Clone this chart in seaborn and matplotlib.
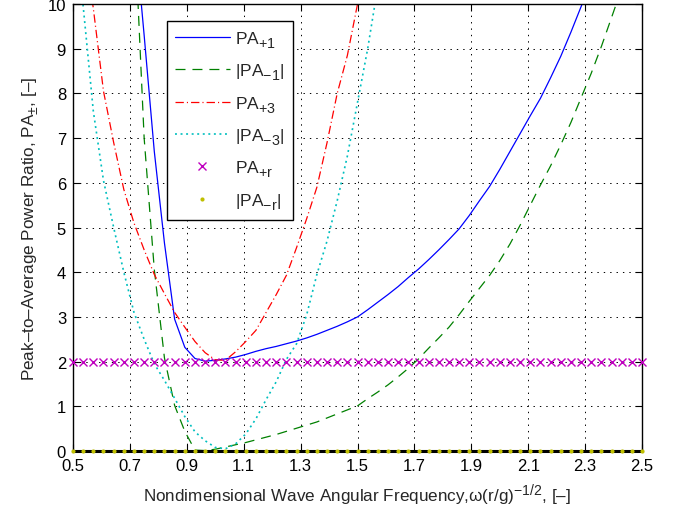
import numpy as np
import pandas as pd
import matplotlib
matplotlib.use("Agg")
import matplotlib.pyplot as plt
import matplotlib._mathtext as mathtext_engine
import seaborn as sns

# Nondimensional frequency grid, omega*(r/g)^(-1/2)
omega = np.round(np.linspace(0.5, 2.5, 57), 4)

# PA_+1 sampled from omega[6] (0.714) to omega[51] (2.321)
pa_p1 = [11.8, 9.3, 6.7, 4.65, 2.95, 2.32, 2.07, 2.01, 2.03, 2.06,
         2.10, 2.16, 2.23, 2.29, 2.34, 2.40, 2.46, 2.53, 2.61, 2.70,
         2.79, 2.89, 3.00, 3.16, 3.33, 3.50, 3.68, 3.88, 4.07, 4.28,
         4.50, 4.73, 4.97, 5.27, 5.60, 5.92, 6.30, 6.70, 7.10, 7.50,
         7.89, 8.35, 8.83, 9.37, 9.94, 10.5]
# |PA_-1| sampled from omega[6] (0.714) to omega[54] (2.429)
pa_m1 = [12.0, 7.0, 4.06, 2.08, 1.02, 0.44, 0.02, 0.01, 0.04, 0.09,
         0.14, 0.19, 0.25, 0.31, 0.37, 0.44, 0.51, 0.58, 0.65, 0.74,
         0.83, 0.92, 1.01, 1.17, 1.32, 1.48, 1.66, 1.85, 2.06, 2.30,
         2.53, 2.77, 3.05, 3.35, 3.64, 3.93, 4.26, 4.63, 5.05, 5.50,
         5.95, 6.38, 6.85, 7.35, 7.90, 8.45, 9.05, 9.70, 10.35]
# PA_+3 sampled from omega[1] (0.536) to omega[29] (1.536)
pa_p3 = [11.5, 9.9, 8.05, 6.9, 5.85, 5.1, 4.5, 3.95, 3.52, 3.1,
         2.77, 2.45, 2.2, 2.04, 2.03, 2.22, 2.45, 2.7, 3.1, 3.5,
         3.93, 4.55, 5.2, 5.9, 6.9, 8.0, 8.85, 10.0, 11.2]
# |PA_-3| sampled from omega[0] (0.5) to omega[30] (1.571)
pa_m3 = [12.0, 9.95, 7.6, 6.05, 5.0, 4.0, 3.1, 2.5, 1.95, 1.58,
         1.18, 0.77, 0.43, 0.23, 0.08, 0.05, 0.16, 0.38, 0.72, 1.15,
         1.55, 2.05, 2.4, 3.05, 3.95, 4.7, 5.6, 6.6, 7.8, 9.0, 10.4]
# Rigid-body ratios, constant over the band
pa_pr = [2.0] * len(omega)
pa_mr = [0.0] * len(omega)

x_ticks = [0.5, 0.7, 0.9, 1.1, 1.3, 1.5, 1.7, 1.9, 2.1, 2.3, 2.5]
y_ticks = list(range(0, 11))

sns.set_theme(style="ticks")
plt.rcParams["font.family"] = ["Liberation Sans", "DejaVu Sans"]
plt.rcParams["mathtext.fontset"] = "custom"
plt.rcParams["mathtext.rm"] = "Liberation Sans"
plt.rcParams["mathtext.it"] = "Liberation Sans"
plt.rcParams["mathtext.default"] = "regular"
plt.rcParams["lines.scale_dashes"] = False
# larger, lower-set sub/superscripts
mathtext_engine.SHRINK_FACTOR = 0.82
mathtext_engine.FontConstantsBase.sub1 = 0.55
mathtext_engine.FontConstantsBase.sub2 = 0.65

BLUE, GREEN, RED = "#0000ff", "#008000", "#ff0000"
CYAN, MAGENTA, YELLOW = "#00bfbf", "#bf00bf", "#bfbf00"

fig = plt.figure(figsize=(6.73, 5.10), dpi=100)
ax = fig.add_axes([0.1085, 0.1137, 0.8455, 0.8765])

lw = 0.9
sns.lineplot(x=omega[6:6 + len(pa_p1)], y=pa_p1, ax=ax, color=BLUE, lw=lw,
             linestyle="-", label=r"PA$_{+1}$", sort=False)
sns.lineplot(x=omega[6:6 + len(pa_m1)], y=pa_m1, ax=ax, color=GREEN, lw=lw,
             linestyle=(0, (7.2, 5.0)), label=r"|PA$_{-1}$|", sort=False)
sns.lineplot(x=omega[1:1 + len(pa_p3)], y=pa_p3, ax=ax, color=RED, lw=lw,
             linestyle=(0, (6.0, 2.2, 0.8, 2.2)), label=r"PA$_{+3}$", sort=False)
sns.lineplot(x=omega[0:len(pa_m3)], y=pa_m3, ax=ax, color=CYAN, lw=1.2,
             linestyle=(0, (1.4, 2.6)), label=r"|PA$_{-3}$|", sort=False)
sns.lineplot(x=omega, y=pa_pr, ax=ax, color=MAGENTA, linestyle="none",
             marker="x", markersize=5.5, markeredgewidth=1.0,
             markeredgecolor=MAGENTA, label=r"PA$_{+r}$", sort=False,
             clip_on=False, zorder=5)
sns.lineplot(x=omega, y=pa_mr, ax=ax, color=YELLOW, linestyle="none",
             marker="o", markersize=3.0, markeredgewidth=0,
             markeredgecolor=YELLOW, label=r"|PA$_{-r}$|", sort=False,
             clip_on=False, zorder=6)

ax.set_xlim(0.5, 2.5)
ax.set_ylim(0, 10)
ax.set_xticks(x_ticks)
ax.set_xticklabels([f"{t:.1f}" for t in x_ticks])
ax.set_yticks(y_ticks)
ax.tick_params(direction="in", length=5, width=0.8, top=True, right=True,
               labelsize=12, colors="black", pad=5)
ax.grid(True, color="black", linestyle=(0, (1, 3.6)), linewidth=0.7)
for side in ["left", "right", "top"]:
    ax.spines[side].set_linewidth(1.0)
    ax.spines[side].set_color("black")
ax.spines["bottom"].set_linewidth(2.2)
ax.spines["bottom"].set_color("black")

ax.set_xlabel("Nondimensional Wave Angular Frequency,ω(r/g)$^{-1/2}$, [–]",
              fontsize=12.3, labelpad=6)
ax.set_ylabel("Peak–to–Average Power Ratio, PA$_{\\pm}$, [–]",
              fontsize=12.3, labelpad=5)

leg = ax.legend(loc="upper left", bbox_to_anchor=(0.165, 0.962),
                fontsize=12.5, frameon=True, fancybox=False, framealpha=1,
                edgecolor="black", handlelength=3.2, handletextpad=0.3,
                labelspacing=0.66, borderpad=0.45, borderaxespad=0)
leg.get_frame().set_linewidth(1.0)

fig.savefig("out.png", dpi=100)
